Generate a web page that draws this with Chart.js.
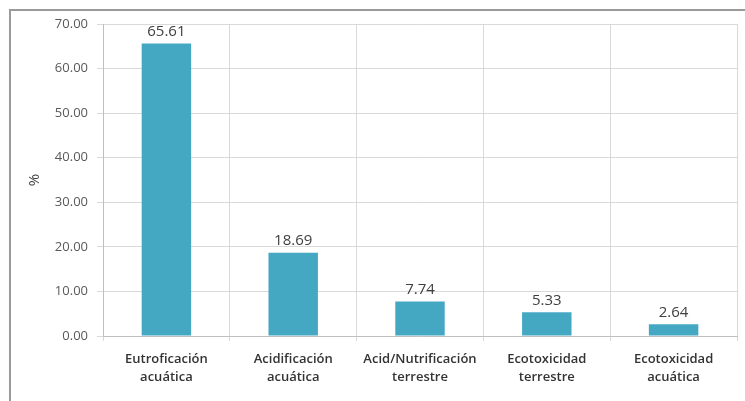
<!DOCTYPE html>
<html>
<head>
<meta charset="utf-8">
<script src="https://cdn.jsdelivr.net/npm/chart.js@4/dist/chart.umd.min.js"></script>
<style>
  html, body { margin: 0; padding: 0; background: #fff; }
  #wrap { position: relative; width: 745px; height: 401px; }
  #frame { position: absolute; left: 9px; top: 9px; width: 760px; height: 420px;
           border-top: 2px solid #9a9a9a; border-left: 2px solid #9a9a9a; }
  canvas { position: absolute; left: 0; top: 0; }
</style>
</head>
<body>
<div id="wrap">
  <div id="frame"></div>
  <canvas id="chart" width="745" height="401"></canvas>
</div>
<script>
// categories and values
var categories = [
  ["Eutroficación", "acuática"],
  ["Acidificación", "acuática"],
  ["Acid/Nutrificación", "terrestre"],
  ["Ecotoxicidad", "terrestre"],
  ["Ecotoxicidad", "acuática"]
];
var values = [65.61, 18.69, 7.74, 5.33, 2.64];
var yTicks = [0, 10, 20, 30, 40, 50, 60, 70];

// value labels above bars
var valueLabels = {
  id: "valueLabels",
  afterDatasetsDraw: function (chart) {
    var ctx = chart.ctx;
    var meta = chart.getDatasetMeta(0);
    ctx.save();
    ctx.font = "15px 'Open Sans'";
    ctx.fillStyle = "#404040";
    ctx.textAlign = "center";
    ctx.textBaseline = "bottom";
    meta.data.forEach(function (bar, i) {
      ctx.fillText(values[i].toFixed(2), bar.x, bar.y - 4);
    });
    ctx.restore();
  }
};

new Chart(document.getElementById("chart"), {
  type: "bar",
  data: {
    labels: categories,
    datasets: [{
      data: values,
      backgroundColor: "#45a8c3",
      categoryPercentage: 1,
      barPercentage: 0.39
    }]
  },
  options: {
    responsive: false,
    animation: false,
    layout: { padding: { left: 10, right: 8, top: 24, bottom: 12 } },
    plugins: { legend: { display: false }, tooltip: { enabled: false } },
    scales: {
      x: {
        grid: { color: "#d9d9d9", tickLength: 5, offset: true },
        border: { color: "#bfbfbf" },
        ticks: {
          color: "#333",
          font: { family: "'Open Sans'", size: 13, weight: 600, lineHeight: 1.38 },
          maxRotation: 0,
          padding: 9
        },
        afterFit: function (scale) { scale.height = 53; }
      },
      y: {
        min: 0,
        max: 70,
        afterBuildTicks: function (scale) {
          scale.ticks = yTicks.map(function (v) { return { value: v }; });
        },
        grid: { color: "#d9d9d9", tickLength: 6 },
        border: { color: "#bfbfbf" },
        ticks: {
          color: "#595959",
          font: { family: "'Open Sans'", size: 13 },
          padding: 9,
          callback: function (v) { return Number(v).toFixed(2); }
        },
        title: {
          display: true,
          text: "%",
          color: "#404040",
          font: { family: "'Open Sans'", size: 15 },
          padding: { top: 16, bottom: 0 }
        },
        afterFit: function (scale) { scale.width = 93; }
      }
    }
  },
  plugins: [valueLabels]
});
</script>
</body>
</html>
